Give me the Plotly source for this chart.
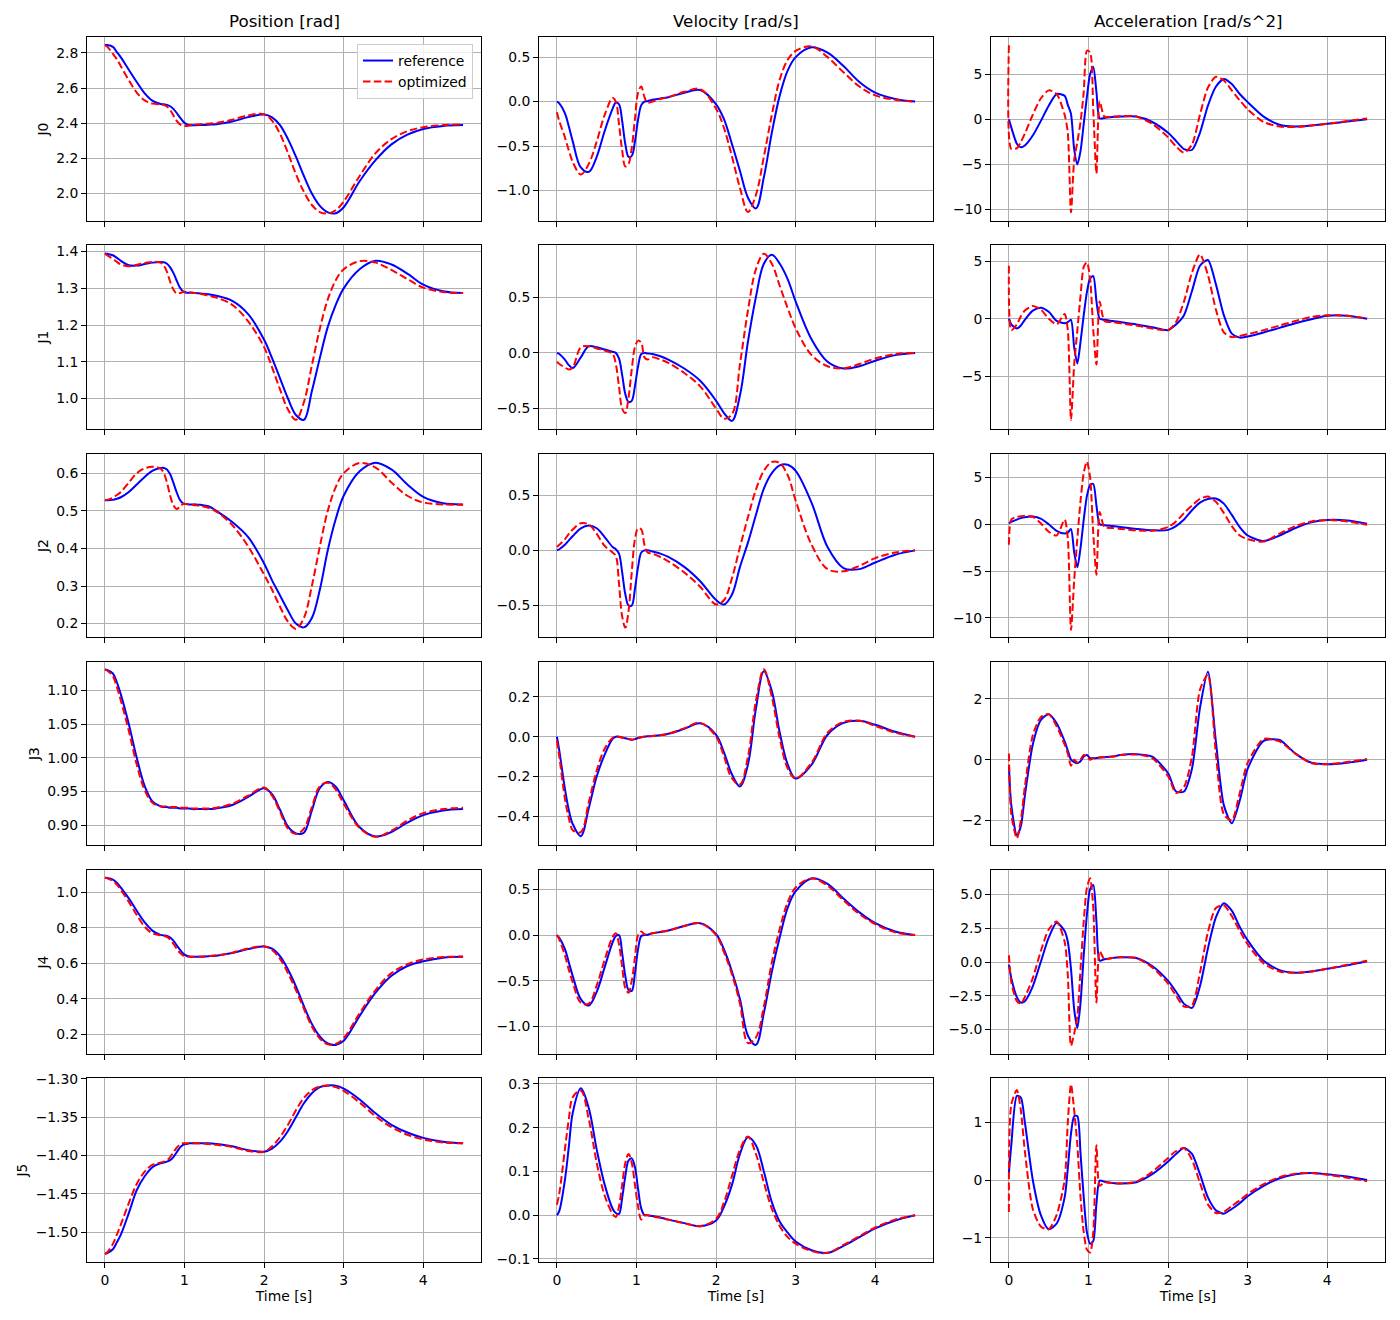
import plotly.graph_objects as go
from plotly.subplots import make_subplots

# time samples [s]
T = [0, 0.03, 0.1, 0.15, 0.2,
     0.3, 0.4, 0.5, 0.6, 0.7,
     0.74, 0.78, 0.82, 0.86, 0.9,
     0.94, 0.98, 1.02, 1.06, 1.1,
     1.14, 1.2, 1.3, 1.4, 1.6,
     1.8, 2.0, 2.1, 2.2, 2.3,
     2.4, 2.5, 2.6, 2.7, 2.8,
     2.9, 3.0, 3.2, 3.4, 3.6,
     3.8, 4.0, 4.25, 4.5]

# ---- J0 ----
POS_REF_J0 = [2.845, 2.845, 2.835, 2.805, 2.775,
              2.705, 2.635, 2.57, 2.527, 2.51,
              2.508, 2.505, 2.497, 2.482, 2.46,
              2.435, 2.412, 2.397, 2.39, 2.389,
              2.389, 2.39, 2.392, 2.395, 2.41,
              2.435, 2.45, 2.434, 2.39, 2.31,
              2.21, 2.10, 2.00, 1.93, 1.893,
              1.888, 1.922, 2.07, 2.19, 2.28,
              2.335, 2.368, 2.385, 2.39]
POS_OPT_J0 = [2.843, 2.835, 2.795, 2.765, 2.725,
              2.645, 2.575, 2.53, 2.512, 2.508,
              2.505, 2.495, 2.475, 2.445, 2.415,
              2.395, 2.386, 2.385, 2.387, 2.39,
              2.392, 2.395, 2.398, 2.402, 2.42,
              2.445, 2.452, 2.415, 2.34, 2.23,
              2.11, 2.01, 1.935, 1.895, 1.887,
              1.905, 1.955, 2.10, 2.23, 2.31,
              2.355, 2.378, 2.39, 2.393]
VEL_REF_J0 = [0.0, -0.02, -0.13, -0.28, -0.45,
              -0.74, -0.79, -0.62, -0.33, -0.08,
              -0.01, -0.03, -0.22, -0.48, -0.62,
              -0.61, -0.45, -0.2, -0.04, 0.0,
              0.005, 0.02, 0.035, 0.05, 0.10,
              0.13, -0.03, -0.2, -0.48, -0.78,
              -1.08, -1.2, -0.85, -0.35, 0.07,
              0.35, 0.5, 0.61, 0.55, 0.40,
              0.22, 0.10, 0.03, 0.0]
VEL_OPT_J0 = [-0.12, -0.22, -0.40, -0.55, -0.68,
              -0.82, -0.70, -0.45, -0.15, 0.04,
              0.0, -0.25, -0.55, -0.73, -0.70,
              -0.52, -0.2, 0.1, 0.17, 0.05,
              -0.01, 0.0, 0.03, 0.05, 0.11,
              0.14, -0.08, -0.3, -0.62, -0.97,
              -1.24, -1.05, -0.62, -0.15, 0.25,
              0.47, 0.57, 0.62, 0.50, 0.33,
              0.17, 0.07, 0.02, 0.0]
ACC_REF_J0 = [0.0, -0.9, -2.7, -3.1, -2.9,
              -1.8, -0.2, 1.5, 2.8, 2.6,
              1.6, 0.6, -3.3, -5.0, -3.5,
              -0.5, 2.5, 5.0, 5.8, 3.0,
              0.1, 0.15, 0.25, 0.3, 0.3,
              -0.3, -1.5, -2.4, -3.3, -3.4,
              -1.5, 1.5, 3.6, 4.45, 3.9,
              2.8, 1.9, 0.3, -0.6, -0.8,
              -0.7, -0.5, -0.25, 0.0]
ACC_OPT_J0 = [8.2, -3.3, -3.2, -2.5, -1.6,
              0.5, 2.3, 3.2, 2.8, 0.5,
              -1.5, -10.3, -4.5, -2.5, -0.3,
              3.0, 7.6, 7.4, 1.0, -6.0,
              2.0, 0.3, 0.3, 0.35, 0.3,
              -0.5, -2.0, -3.0, -3.7, -2.8,
              0.5, 3.5, 4.7, 4.3, 3.2,
              2.1, 1.1, -0.3, -0.8, -0.85,
              -0.7, -0.5, -0.2, 0.1]

# ---- J1 ----
POS_REF_J1 = [1.395, 1.394, 1.39, 1.383, 1.375,
              1.363, 1.362, 1.366, 1.37, 1.372,
              1.371, 1.367, 1.357, 1.342, 1.322,
              1.303, 1.292, 1.288, 1.288, 1.288,
              1.287, 1.286, 1.284, 1.28, 1.266,
              1.23, 1.16, 1.11, 1.055, 1.0,
              0.955, 0.942, 1.02, 1.11, 1.195,
              1.255, 1.30, 1.352, 1.375, 1.365,
              1.34, 1.31, 1.292, 1.287]
POS_OPT_J1 = [1.393, 1.39, 1.38, 1.372, 1.365,
              1.36, 1.364, 1.369, 1.372, 1.37,
              1.362, 1.345, 1.318, 1.297, 1.286,
              1.287, 1.29, 1.291, 1.29, 1.288,
              1.287, 1.285, 1.28, 1.275, 1.255,
              1.21, 1.14, 1.085, 1.025, 0.97,
              0.942, 0.99, 1.09, 1.19, 1.27,
              1.322, 1.352, 1.374, 1.37, 1.35,
              1.325, 1.302, 1.29, 1.287]
VEL_REF_J1 = [0.0, -0.01, -0.06, -0.11, -0.135,
              -0.04, 0.06, 0.05, 0.03, 0.01,
              0.0, -0.05, -0.2, -0.37, -0.44,
              -0.43, -0.3, -0.12, -0.01, 0.0,
              -0.005, -0.01, -0.03, -0.06, -0.14,
              -0.25, -0.43, -0.54, -0.61, -0.38,
              0.1, 0.5, 0.8, 0.88, 0.8,
              0.66, 0.46, 0.12, -0.08, -0.14,
              -0.12, -0.07, -0.02, 0.0]
VEL_OPT_J1 = [-0.08, -0.1, -0.13, -0.15, -0.13,
              0.05, 0.06, 0.04, 0.02, -0.01,
              -0.1, -0.3, -0.5, -0.54, -0.4,
              -0.15, 0.05, 0.11, 0.09, -0.04,
              -0.06, -0.04, -0.06, -0.09, -0.18,
              -0.3, -0.5, -0.59, -0.55, -0.1,
              0.38, 0.75, 0.89, 0.8, 0.6,
              0.4, 0.22, -0.02, -0.12, -0.14,
              -0.1, -0.05, -0.01, 0.0]
ACC_REF_J1 = [0.0, -0.5, -0.85, -0.6, -0.1,
              0.7, 0.95, 0.6, -0.2, -0.4,
              -0.3, -0.1, -2.5, -3.9, -2.0,
              0.3, 2.3, 3.5, 3.7, 1.5,
              0.0, -0.1, -0.2, -0.3, -0.5,
              -0.75, -1.0, -0.5, 0.3, 2.4,
              4.6, 5.1, 3.0, 0.3, -1.3,
              -1.65, -1.55, -1.2, -0.8, -0.4,
              -0.05, 0.25, 0.25, 0.0]
ACC_OPT_J1 = [4.6, -1.0, -0.5, 0.2, 0.7,
              1.1, 0.8, 0.0, -0.5, 0.4,
              -1.0, -8.8, -4.0, -1.0, 2.0,
              4.5, 4.9, 3.5, -1.0, -4.0,
              1.5, -0.2, -0.3, -0.4, -0.6,
              -0.85, -1.0, -0.3, 1.5, 4.0,
              5.6, 3.8, 0.8, -1.2, -1.6,
              -1.5, -1.35, -1.0, -0.6, -0.2,
              0.15, 0.3, 0.25, 0.0]

# ---- J2 ----
POS_REF_J2 = [0.528, 0.528, 0.529, 0.532, 0.536,
              0.55, 0.57, 0.59, 0.607, 0.614,
              0.614, 0.61, 0.597, 0.575, 0.55,
              0.53, 0.52, 0.518, 0.517, 0.517,
              0.517, 0.516, 0.512, 0.5, 0.47,
              0.43, 0.36, 0.315, 0.275, 0.235,
              0.2, 0.19, 0.215, 0.29, 0.395,
              0.478, 0.54, 0.605, 0.628, 0.61,
              0.57, 0.537, 0.52, 0.517]
POS_OPT_J2 = [0.528, 0.529, 0.535, 0.542, 0.55,
              0.575, 0.6, 0.613, 0.617, 0.612,
              0.6, 0.575, 0.54, 0.515, 0.505,
              0.51, 0.518, 0.518, 0.517, 0.516,
              0.515, 0.513, 0.508, 0.498, 0.462,
              0.405, 0.33, 0.29, 0.245, 0.205,
              0.186, 0.215, 0.3, 0.405, 0.5,
              0.563, 0.6, 0.627, 0.615, 0.575,
              0.54, 0.522, 0.517, 0.516]
VEL_REF_J2 = [0.0, 0.01, 0.05, 0.09, 0.13,
              0.2, 0.225, 0.2, 0.12, 0.03,
              0.01, -0.03, -0.2, -0.4, -0.5,
              -0.5, -0.35, -0.15, -0.02, 0.0,
              0.0, -0.01, -0.03, -0.06, -0.15,
              -0.28, -0.45, -0.49, -0.4, -0.15,
              0.07, 0.32, 0.56, 0.7, 0.77,
              0.775, 0.72, 0.43, 0.03, -0.16,
              -0.17, -0.11, -0.04, 0.0]
VEL_OPT_J2 = [0.03, 0.05, 0.1, 0.15, 0.19,
              0.245, 0.235, 0.15, 0.04, -0.02,
              -0.05, -0.3, -0.6, -0.7, -0.55,
              -0.2, 0.1, 0.2, 0.19, 0.05,
              -0.02, -0.03, -0.06, -0.1, -0.2,
              -0.33, -0.49, -0.45, -0.25, 0.03,
              0.3, 0.55, 0.72, 0.8, 0.79,
              0.68, 0.45, 0.05, -0.17, -0.19,
              -0.14, -0.07, -0.02, 0.0]
ACC_REF_J2 = [0.1, 0.25, 0.5, 0.65, 0.75,
              0.82, 0.6, 0.0, -0.7, -1.0,
              -0.9, -0.5, -3.0, -4.6, -2.5,
              0.5, 3.0, 4.2, 4.3, 2.0,
              0.0, -0.1, -0.2, -0.3, -0.5,
              -0.65, -0.6, -0.2, 0.5, 1.5,
              2.3, 2.7, 2.75, 2.2, 1.0,
              -0.3, -1.2, -1.8, -1.2, -0.4,
              0.2, 0.45, 0.4, 0.05]
ACC_OPT_J2 = [-2.2, 0.5, 0.8, 0.85, 0.9,
              0.8, 0.1, -0.8, -1.2, 0.5,
              -1.5, -11.3, -6.0, -1.5, 2.5,
              5.5, 6.7, 5.0, -1.0, -5.4,
              1.3, -0.3, -0.4, -0.5, -0.65,
              -0.7, -0.3, 0.3, 1.2, 2.0,
              2.7, 2.95, 2.4, 1.2, -0.2,
              -1.2, -1.6, -1.85, -1.0, -0.2,
              0.3, 0.45, 0.3, -0.05]

# ---- J3 ----
POS_REF_J3 = [1.131, 1.13, 1.125, 1.112, 1.094,
              1.05, 1.0, 0.958, 0.935, 0.928,
              0.927, 0.927, 0.926, 0.926, 0.926,
              0.925, 0.925, 0.925, 0.925, 0.924,
              0.924, 0.924, 0.924, 0.925, 0.93,
              0.942, 0.955, 0.946, 0.923, 0.898,
              0.888, 0.889, 0.922, 0.955, 0.964,
              0.957, 0.937, 0.897, 0.8835, 0.89,
              0.904, 0.915, 0.922, 0.924]
POS_OPT_J3 = [1.131, 1.129, 1.121, 1.105, 1.085,
              1.04, 0.99, 0.952, 0.933, 0.928,
              0.928, 0.928, 0.927, 0.927, 0.927,
              0.926, 0.926, 0.926, 0.926, 0.925,
              0.925, 0.925, 0.925, 0.926, 0.932,
              0.944, 0.956, 0.944, 0.92, 0.895,
              0.887, 0.895, 0.927, 0.958, 0.963,
              0.953, 0.932, 0.896, 0.883, 0.892,
              0.907, 0.918, 0.924, 0.926]
VEL_REF_J3 = [0.0, -0.07, -0.26, -0.37, -0.44,
              -0.5, -0.36, -0.2, -0.09, -0.01,
              0.0, 0.0, -0.004, -0.008, -0.012,
              -0.015, -0.012, -0.006, -0.002, 0.0,
              0.002, 0.004, 0.008, 0.015, 0.04,
              0.068, 0.01, -0.08, -0.19, -0.25,
              -0.14, 0.14, 0.33, 0.23, 0.02,
              -0.14, -0.21, -0.14, 0.01, 0.07,
              0.08, 0.06, 0.025, 0.0]
VEL_OPT_J3 = [-0.02, -0.1, -0.31, -0.41, -0.47,
              -0.48, -0.33, -0.17, -0.06, -0.005,
              0.0, 0.0, -0.004, -0.008, -0.012,
              -0.015, -0.012, -0.006, -0.002, 0.0,
              0.002, 0.004, 0.008, 0.015, 0.042,
              0.07, 0.0, -0.1, -0.21, -0.24,
              -0.1, 0.18, 0.34, 0.2, -0.01,
              -0.16, -0.21, -0.13, 0.02, 0.075,
              0.08, 0.055, 0.02, 0.0]
ACC_REF_J3 = [-0.2, -1.5, -2.5, -2.2, -1.2,
              0.5, 1.3, 1.5, 1.2, 0.6,
              0.3, 0.0, -0.08, -0.12, -0.05,
              0.1, 0.15, 0.05, 0.05, 0.05,
              0.07, 0.08, 0.1, 0.15, 0.18,
              0.1, -0.45, -1.05, -1.05, -0.3,
              1.7, 2.9, 0.6, -1.5, -2.1,
              -1.35, -0.3, 0.62, 0.65, 0.2,
              -0.1, -0.15, -0.1, 0.0]
ACC_OPT_J3 = [0.2, -1.8, -2.6, -2.0, -0.9,
              0.8, 1.4, 1.5, 1.1, 0.5,
              0.2, -0.2, 0.0, -0.1, 0.0,
              0.15, 0.1, 0.0, 0.05, 0.05,
              0.07, 0.08, 0.1, 0.15, 0.17,
              0.05, -0.55, -1.1, -0.9, 0.1,
              2.3, 2.8, 0.2, -1.8, -2.0,
              -1.1, -0.1, 0.68, 0.6, 0.2,
              -0.12, -0.15, -0.08, 0.02]

# ---- J4 ----
POS_REF_J4 = [1.08, 1.079, 1.07, 1.052, 1.025,
              0.965, 0.895, 0.83, 0.782, 0.76,
              0.757, 0.754, 0.745, 0.727, 0.703,
              0.678, 0.657, 0.644, 0.638, 0.637,
              0.637, 0.637, 0.64, 0.643, 0.658,
              0.68, 0.695, 0.682, 0.64, 0.565,
              0.47, 0.36, 0.26, 0.19, 0.15,
              0.142, 0.165, 0.305, 0.435, 0.53,
              0.585, 0.612, 0.632, 0.637]
POS_OPT_J4 = [1.08, 1.077, 1.062, 1.042, 1.012,
              0.945, 0.872, 0.805, 0.768, 0.757,
              0.754, 0.748, 0.733, 0.71, 0.684,
              0.66, 0.645, 0.639, 0.637, 0.637,
              0.637, 0.638, 0.641, 0.645, 0.66,
              0.683, 0.696, 0.675, 0.625, 0.545,
              0.45, 0.345, 0.245, 0.178, 0.145,
              0.148, 0.18, 0.32, 0.45, 0.545,
              0.595, 0.622, 0.635, 0.638]
VEL_REF_J4 = [0.0, -0.03, -0.15, -0.3, -0.45,
              -0.7, -0.77, -0.62, -0.35, -0.08,
              -0.01, 0.0, -0.2, -0.45, -0.6,
              -0.61, -0.42, -0.15, -0.01, 0.0,
              0.005, 0.02, 0.035, 0.05, 0.1,
              0.13, 0.01, -0.16, -0.4, -0.7,
              -1.1, -1.2, -0.85, -0.4, -0.02,
              0.3, 0.48, 0.62, 0.56, 0.4,
              0.25, 0.13, 0.04, 0.0]
VEL_OPT_J4 = [0.0, -0.05, -0.22, -0.38, -0.52,
              -0.74, -0.75, -0.55, -0.27, -0.02,
              0.02, -0.1, -0.35, -0.58, -0.63,
              -0.5, -0.25, 0.0, 0.04, 0.01,
              0.005, 0.02, 0.035, 0.05, 0.1,
              0.13, 0.0, -0.19, -0.43, -0.75,
              -1.18, -1.12, -0.78, -0.3, 0.07,
              0.36, 0.52, 0.62, 0.54, 0.38,
              0.23, 0.12, 0.03, 0.0]
ACC_REF_J4 = [-0.2, -1.2, -2.6, -3.0, -2.9,
              -1.8, 0.0, 1.8, 2.9, 2.3,
              1.5, -0.5, -3.5, -4.9, -3.0,
              0.5, 3.5, 5.4, 5.7, 3.0,
              0.1, 0.2, 0.3, 0.35, 0.3,
              -0.3, -1.4, -2.2, -3.1, -3.4,
              -1.8, 1.0, 3.3, 4.35, 3.8,
              2.6, 1.6, 0.1, -0.6, -0.8,
              -0.7, -0.5, -0.25, 0.05]
ACC_OPT_J4 = [0.5, -1.5, -2.9, -3.1, -2.6,
              -1.2, 0.8, 2.4, 3.0, 1.5,
              -1.0, -6.2, -5.3, -4.0, -0.5,
              3.0, 5.5, 6.2, 4.0, -3.0,
              0.8, 0.2, 0.3, 0.35, 0.3,
              -0.4, -1.6, -2.5, -3.3, -3.2,
              -0.8, 2.2, 4.0, 4.2, 3.4,
              2.3, 1.3, -0.1, -0.7, -0.8,
              -0.7, -0.5, -0.2, 0.1]

# ---- J5 ----
POS_REF_J5 = [-1.528, -1.527, -1.522, -1.513, -1.503,
              -1.475, -1.445, -1.427, -1.415, -1.41,
              -1.409, -1.408, -1.406, -1.402, -1.396,
              -1.39, -1.386, -1.385, -1.384, -1.384,
              -1.384, -1.384, -1.384, -1.385, -1.388,
              -1.393, -1.395, -1.391, -1.382, -1.368,
              -1.35, -1.332, -1.319, -1.311, -1.309,
              -1.309, -1.313, -1.327, -1.345, -1.36,
              -1.37, -1.377, -1.382, -1.384]
POS_OPT_J5 = [-1.528, -1.526, -1.515, -1.503, -1.49,
              -1.462, -1.437, -1.421, -1.412, -1.409,
              -1.408, -1.406, -1.402, -1.396, -1.39,
              -1.386, -1.384, -1.384, -1.384, -1.384,
              -1.384, -1.384, -1.385, -1.386, -1.389,
              -1.394, -1.395, -1.388, -1.376, -1.36,
              -1.341, -1.325, -1.315, -1.31, -1.309,
              -1.311, -1.316, -1.331, -1.349, -1.363,
              -1.373, -1.379, -1.383, -1.384]
VEL_REF_J5 = [0.0, 0.01, 0.08, 0.157, 0.235,
              0.29, 0.245, 0.15, 0.07, 0.015,
              0.005, 0.003, 0.04, 0.09, 0.125,
              0.13, 0.11, 0.06, 0.015, 0.0,
              0.0, -0.002, -0.005, -0.01, -0.018,
              -0.025, -0.012, 0.02, 0.07, 0.14,
              0.178, 0.16, 0.1, 0.03, -0.015,
              -0.04, -0.06, -0.08, -0.086, -0.07,
              -0.05, -0.03, -0.012, 0.0]
VEL_OPT_J5 = [0.024, 0.05, 0.15, 0.22, 0.27,
              0.285, 0.22, 0.12, 0.045, 0.003,
              -0.004, 0.02, 0.07, 0.12, 0.14,
              0.12, 0.07, 0.02, -0.01, 0.0,
              0.0, -0.003, -0.006, -0.01, -0.018,
              -0.025, -0.008, 0.03, 0.09, 0.15,
              0.18, 0.14, 0.075, 0.015, -0.025,
              -0.05, -0.065, -0.082, -0.086, -0.068,
              -0.048, -0.028, -0.01, 0.0]
ACC_REF_J5 = [0.12, 0.6, 1.45, 1.42, 1.0,
              0.0, -0.6, -0.85, -0.75, -0.3,
              0.2, 0.8, 1.1, 1.1, 0.45,
              -0.3, -0.9, -1.1, -1.05, -0.4,
              -0.01, -0.03, -0.05, -0.06, -0.04,
              0.1, 0.32, 0.45, 0.55, 0.45,
              0.1, -0.3, -0.52, -0.58, -0.5,
              -0.4, -0.28, -0.1, 0.03, 0.1,
              0.12, 0.1, 0.06, 0.0]
ACC_OPT_J5 = [-0.55, 1.3, 1.55, 1.2, 0.5,
              -0.5, -0.8, -0.85, -0.6, 0.0,
              1.0, 1.65, 1.2, 0.6, -0.3,
              -0.9, -1.2, -1.25, -0.9, 0.6,
              -0.1, -0.04, -0.05, -0.06, -0.03,
              0.14, 0.38, 0.5, 0.55, 0.35,
              -0.05, -0.42, -0.57, -0.55, -0.45,
              -0.35, -0.24, -0.07, 0.05, 0.11,
              0.12, 0.09, 0.04, -0.02]

JOINTS = ["J0", "J1", "J2", "J3", "J4", "J5"]
COL_TITLES = ["Position [rad]", "Velocity [rad/s]", "Acceleration [rad/s^2]"]
X_TICKS = [0, 1, 2, 3, 4]

# y tick values / labels per row, per column
Y_TICKVALS = [
    [[2.0, 2.2, 2.4, 2.6, 2.8], [-1.0, -0.5, 0.0, 0.5], [-10, -5, 0, 5]],
    [[1.0, 1.1, 1.2, 1.3, 1.4], [-0.5, 0.0, 0.5], [-5, 0, 5]],
    [[0.2, 0.3, 0.4, 0.5, 0.6], [-0.5, 0.0, 0.5], [-10, -5, 0, 5]],
    [[0.90, 0.95, 1.00, 1.05, 1.10], [-0.4, -0.2, 0.0, 0.2], [-2, 0, 2]],
    [[0.2, 0.4, 0.6, 0.8, 1.0], [-1.0, -0.5, 0.0, 0.5], [-5.0, -2.5, 0.0, 2.5, 5.0]],
    [[-1.50, -1.45, -1.40, -1.35, -1.30], [-0.1, 0.0, 0.1, 0.2, 0.3], [-1, 0, 1]],
]
Y_TICKTEXT = [
    [["2.0", "2.2", "2.4", "2.6", "2.8"], ["−1.0", "−0.5", "0.0", "0.5"], ["−10", "−5", "0", "5"]],
    [["1.0", "1.1", "1.2", "1.3", "1.4"], ["−0.5", "0.0", "0.5"], ["−5", "0", "5"]],
    [["0.2", "0.3", "0.4", "0.5", "0.6"], ["−0.5", "0.0", "0.5"], ["−10", "−5", "0", "5"]],
    [["0.90", "0.95", "1.00", "1.05", "1.10"], ["−0.4", "−0.2", "0.0", "0.2"], ["−2", "0", "2"]],
    [["0.2", "0.4", "0.6", "0.8", "1.0"], ["−1.0", "−0.5", "0.0", "0.5"], ["−5.0", "−2.5", "0.0", "2.5", "5.0"]],
    [["−1.50", "−1.45", "−1.40", "−1.35", "−1.30"], ["−0.1", "0.0", "0.1", "0.2", "0.3"], ["−1", "0", "1"]],
]

PANELS = [
    [(POS_REF_J0, POS_OPT_J0), (VEL_REF_J0, VEL_OPT_J0), (ACC_REF_J0, ACC_OPT_J0)],
    [(POS_REF_J1, POS_OPT_J1), (VEL_REF_J1, VEL_OPT_J1), (ACC_REF_J1, ACC_OPT_J1)],
    [(POS_REF_J2, POS_OPT_J2), (VEL_REF_J2, VEL_OPT_J2), (ACC_REF_J2, ACC_OPT_J2)],
    [(POS_REF_J3, POS_OPT_J3), (VEL_REF_J3, VEL_OPT_J3), (ACC_REF_J3, ACC_OPT_J3)],
    [(POS_REF_J4, POS_OPT_J4), (VEL_REF_J4, VEL_OPT_J4), (ACC_REF_J4, ACC_OPT_J4)],
    [(POS_REF_J5, POS_OPT_J5), (VEL_REF_J5, VEL_OPT_J5), (ACC_REF_J5, ACC_OPT_J5)],
]

for row in PANELS:
    for ref, opt in row:
        assert len(ref) == len(T) and len(opt) == len(T), (len(ref), len(opt))

# layout: the page body adds an 8px margin, so the figure is 8px smaller
# and every pixel position is given relative to that offset
OFF = 8
W, H = 1400 - OFF, 1320 - OFF
COL_PX = [(87, 481), (539, 933), (991, 1385)]
ROW_PX = [(37, 221), (245, 429), (454, 637), (662, 845), (870, 1054), (1078, 1262)]
Y_RANGES = [
    [[1.844, 2.891], [-1.342, 0.726], [-11.26, 9.11]],
    [[0.917, 1.418], [-0.683, 0.968], [-9.59, 6.40]],
    [[0.1644, 0.651], [-0.785, 0.873], [-12.04, 7.5]],
    [[0.8708, 1.142], [-0.5445, 0.376], [-2.815, 3.22]],
    [[0.091, 1.124], [-1.30, 0.712], [-6.81, 6.81]],
    [[-1.5386, -1.2991], [-0.1069, 0.3137], [-1.414, 1.759]],
]

FONT = "DejaVu Sans"
FS = 13.9


def px_x(v):
    return (v - OFF) / W


def px_y(v):
    return 1 - (v - OFF) / H


fig = make_subplots(rows=6, cols=3)

for r in range(6):
    for c in range(3):
        ref, opt = PANELS[r][c]
        smooth = 1.0 if c < 2 else 0.7
        fig.add_trace(
            go.Scatter(
                x=T, y=ref, mode="lines", name="reference",
                line=dict(color="blue", width=2, shape="spline", smoothing=smooth),
                legendgroup="ref", showlegend=(r == 0 and c == 0),
                hoverinfo="skip",
            ),
            row=r + 1, col=c + 1,
        )
        fig.add_trace(
            go.Scatter(
                x=T, y=opt, mode="lines", name="optimized",
                line=dict(color="red", width=2, dash="7.5px,3.3px", shape="spline", smoothing=smooth),
                legendgroup="opt", showlegend=(r == 0 and c == 0),
                hoverinfo="skip",
            ),
            row=r + 1, col=c + 1,
        )
        fig.update_xaxes(
            domain=[px_x(COL_PX[c][0]), px_x(COL_PX[c][1])],
            range=[-0.225, 4.725],
            tickvals=X_TICKS,
            ticktext=[str(v) for v in X_TICKS],
            showticklabels=(r == 5),
            title_text="Time [s]" if r == 5 else None,
            title_font=dict(family=FONT, size=FS, color="black"),
            title_standoff=4,
            row=r + 1, col=c + 1,
        )
        fig.update_yaxes(
            domain=[px_y(ROW_PX[r][1]), px_y(ROW_PX[r][0])],
            range=Y_RANGES[r][c],
            tickvals=Y_TICKVALS[r][c],
            ticktext=Y_TICKTEXT[r][c],
            title_text=JOINTS[r] if c == 0 else None,
            title_font=dict(family=FONT, size=FS, color="black"),
            title_standoff=4,
            row=r + 1, col=c + 1,
        )

fig.update_xaxes(
    showline=True, linecolor="black", linewidth=1, mirror=True,
    ticks="outside", ticklen=5, tickwidth=1, tickcolor="black",
    showgrid=True, gridcolor="#b0b0b0", gridwidth=1, zeroline=False,
    tickfont=dict(family=FONT, size=FS, color="black"), automargin=False,
)
fig.update_yaxes(
    showline=True, linecolor="black", linewidth=1, mirror=True,
    ticks="outside", ticklen=5, tickwidth=1, tickcolor="black",
    showgrid=True, gridcolor="#b0b0b0", gridwidth=1, zeroline=False,
    tickfont=dict(family=FONT, size=FS, color="black"), automargin=False,
)

for c, title in enumerate(COL_TITLES):
    fig.add_annotation(
        text=title, xref="paper", yref="paper",
        x=px_x((COL_PX[c][0] + COL_PX[c][1]) / 2), y=px_y(ROW_PX[0][0]),
        xanchor="center", yanchor="bottom", yshift=4, showarrow=False,
        font=dict(family=FONT, size=16.7, color="black"),
    )

fig.update_layout(
    width=W, height=H,
    margin=dict(l=0, r=0, t=0, b=0),
    plot_bgcolor="white", paper_bgcolor="white",
    font=dict(family=FONT, size=FS, color="black"),
    showlegend=True,
    legend=dict(
        x=px_x(473), xanchor="right", y=px_y(44), yanchor="top",
        bgcolor="rgba(255,255,255,0.8)", bordercolor="#cccccc", borderwidth=1,
        font=dict(family=FONT, size=FS, color="black"),
        tracegroupgap=0,
    ),
)

fig.write_html("out.html")
